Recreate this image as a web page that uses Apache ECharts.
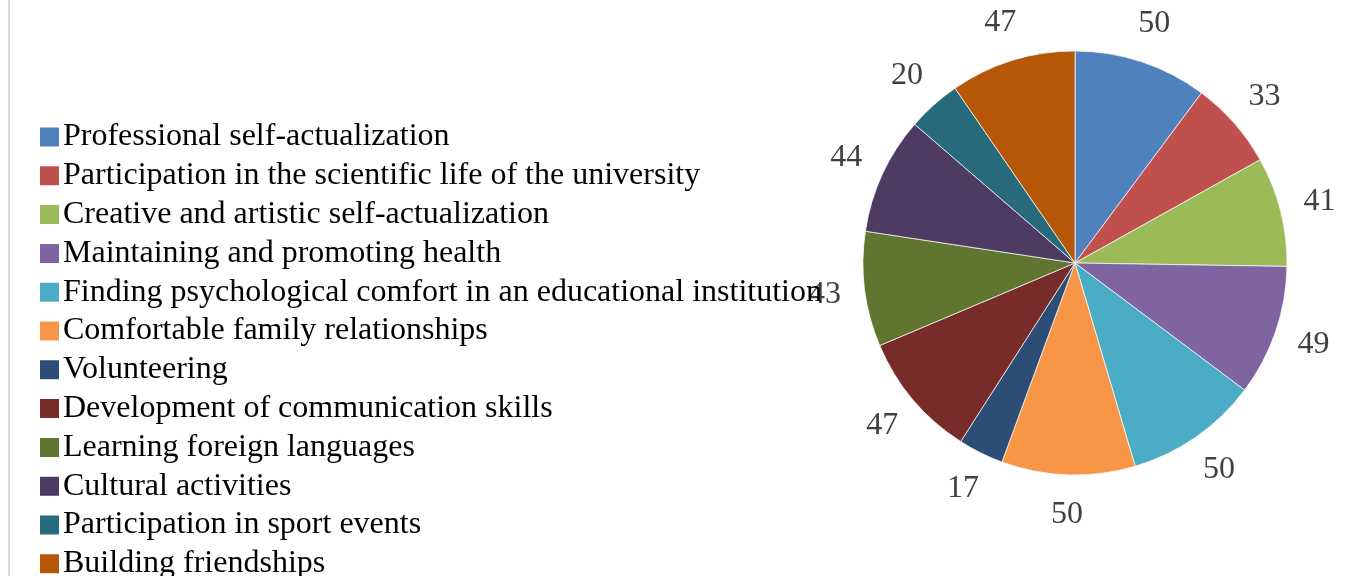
<!DOCTYPE html>
<html>
<head>
<meta charset="utf-8">
<script src="https://cdn.jsdelivr.net/npm/echarts@6/dist/echarts.min.js"></script>
<style>
  html, body { margin: 0; padding: 0; background: #fff; }
  #chart { width: 1354px; height: 576px; }
</style>
</head>
<body>
<div id="chart"></div>
<script>
var categories = [
    'Professional self-actualization',
    'Participation in the scientific life of the university',
    'Creative and artistic self-actualization',
    'Maintaining and promoting health',
    'Finding psychological comfort in an educational institution',
    'Comfortable family relationships',
    'Volunteering',
    'Development of communication skills',
    'Learning foreign languages',
    'Cultural activities',
    'Participation in sport events',
    'Building friendships'
];
var values = [50, 33, 41, 49, 50, 50, 17, 47, 43, 44, 20, 47];
var colors = ['#4F81BD', '#C0504D', '#9BBB59', '#8064A2', '#4BACC6', '#F79646',
              '#2C4D75', '#772C2A', '#5F7530', '#4D3B62', '#276A7C', '#B65708'];

var pieData = [];
for (var i = 0; i < categories.length; i++) {
    pieData.push({ name: categories[i], value: values[i] });
}

var myChart = echarts.init(document.getElementById('chart'));
var font = '"Liberation Serif", "Times New Roman", serif';
var option = {
    animation: false,
    color: colors,
    graphic: [{
        type: 'rect',
        shape: { x: 8, y: 0, width: 2, height: 576 },
        style: { fill: '#d9d9d9' },
        silent: true
    }],
    legend: {
        orient: 'vertical',
        left: 33,
        top: 116,
        height: 470,
        itemWidth: 21,
        itemHeight: 21,
        itemGap: 6.8,
        icon: 'rect',
        data: categories,
        textStyle: { fontFamily: font, fontSize: 32, color: '#000', lineHeight: 32, padding: [0, 0, 0, -2] }
    },
    series: [{
        // the visible pie
        type: 'pie',
        center: [1075, 263],
        radius: 212,
        startAngle: 90,
        label: { show: false },
        labelLine: { show: false },
        itemStyle: { borderColor: '#fff', borderWidth: 0.7 },
        emphasis: { disabled: true },
        data: pieData
    }, {
        // transparent twin, only carries the value labels outside the pie
        type: 'pie',
        center: [1075, 263],
        radius: 498,
        startAngle: 90,
        silent: true,
        itemStyle: { color: 'rgba(0,0,0,0)' },
        label: {
            show: true,
            position: 'inside',
            formatter: '{c}',
            fontFamily: font,
            fontSize: 32,
            color: '#404040'
        },
        labelLine: { show: false },
        data: pieData
    }]
};
myChart.setOption(option);
</script>
</body>
</html>
